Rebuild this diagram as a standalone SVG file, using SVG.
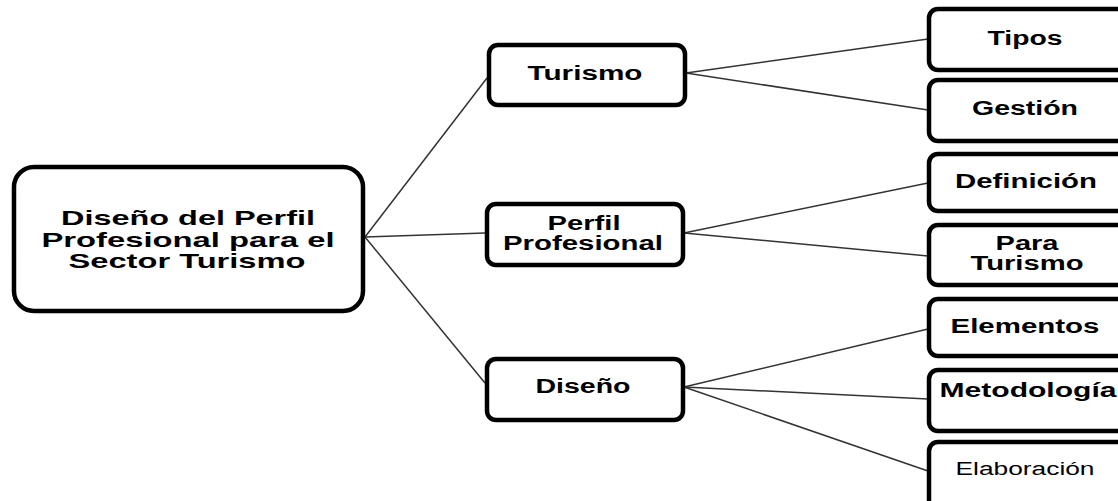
<svg xmlns="http://www.w3.org/2000/svg" width="1118" height="501" viewBox="0 0 1118 501">
<style>
.box{fill:#fff;stroke:#000;stroke-width:4.5}
.t{font-family:"Liberation Sans",Arial,sans-serif;font-weight:bold;font-size:20px;fill:#000;text-anchor:middle}
.big{font-size:21px}
.light{font-weight:normal;font-size:18px;fill:#000}
.c{stroke:#333;stroke-width:1.5;fill:none}
</style>
<rect width="1118" height="501" fill="#fff"/>
<g id="connectors">
<line class="c" x1="365" y1="237" x2="487" y2="78"/>
<line class="c" x1="365" y1="237" x2="485" y2="233"/>
<line class="c" x1="365" y1="237" x2="485" y2="383"/>
<line class="c" x1="686" y1="73" x2="928" y2="39"/>
<line class="c" x1="686" y1="73" x2="928" y2="110"/>
<line class="c" x1="684" y1="233" x2="928" y2="183"/>
<line class="c" x1="684" y1="233" x2="928" y2="256"/>
<line class="c" x1="684" y1="387" x2="928" y2="329"/>
<line class="c" x1="684" y1="387" x2="928" y2="399"/>
<line class="c" x1="684" y1="387" x2="928" y2="471"/>
</g>
<g id="main">
<rect class="box" x="14" y="167" width="349" height="144" rx="20"/>
<text class="t big" x="188" y="225" textLength="254" lengthAdjust="spacingAndGlyphs">Diseño del Perfil</text>
<text class="t big" x="188" y="247" textLength="293" lengthAdjust="spacingAndGlyphs">Profesional para el</text>
<text class="t big" x="187" y="268" textLength="237" lengthAdjust="spacingAndGlyphs">Sector Turismo</text>
</g>
<g id="turismo">
<rect class="box" x="489" y="45" width="196" height="60" rx="9"/>
<text class="t" x="585" y="80" textLength="115" lengthAdjust="spacingAndGlyphs">Turismo</text>
</g>
<g id="perfil">
<rect class="box" x="487" y="204" width="196" height="61" rx="9"/>
<text class="t" x="584" y="230" textLength="73" lengthAdjust="spacingAndGlyphs">Perfil</text>
<text class="t" x="583" y="250" textLength="160" lengthAdjust="spacingAndGlyphs">Profesional</text>
</g>
<g id="diseno">
<rect class="box" x="487" y="359" width="196" height="61" rx="9"/>
<text class="t" x="583" y="393" textLength="95" lengthAdjust="spacingAndGlyphs">Diseño</text>
</g>
<g id="tipos">
<rect class="box" x="929" y="9" width="200" height="61" rx="9"/>
<text class="t" x="1025" y="45" textLength="75" lengthAdjust="spacingAndGlyphs">Tipos</text>
</g>
<g id="gestion">
<rect class="box" x="929" y="80" width="200" height="61" rx="9"/>
<text class="t" x="1025" y="115" textLength="106" lengthAdjust="spacingAndGlyphs">Gestión</text>
</g>
<g id="definicion">
<rect class="box" x="929" y="154" width="200" height="57" rx="9"/>
<text class="t" x="1026" y="188" textLength="142" lengthAdjust="spacingAndGlyphs">Definición</text>
</g>
<g id="para-turismo">
<rect class="box" x="929" y="225" width="200" height="60" rx="9"/>
<text class="t" x="1027" y="250" textLength="63" lengthAdjust="spacingAndGlyphs">Para</text>
<text class="t" x="1027" y="270" textLength="113" lengthAdjust="spacingAndGlyphs">Turismo</text>
</g>
<g id="elementos">
<rect class="box" x="929" y="299" width="200" height="57" rx="9"/>
<text class="t" x="1025" y="333" textLength="149" lengthAdjust="spacingAndGlyphs">Elementos</text>
</g>
<g id="metodologia">
<rect class="box" x="929" y="370" width="200" height="61" rx="9"/>
<text class="t" x="1028" y="397" textLength="177" lengthAdjust="spacingAndGlyphs">Metodología</text>
</g>
<g id="elaboracion">
<rect class="box" x="929" y="442" width="200" height="70" rx="9"/>
<text class="t light" x="1025" y="475" textLength="139" lengthAdjust="spacingAndGlyphs">Elaboración</text>
</g>
</svg>
